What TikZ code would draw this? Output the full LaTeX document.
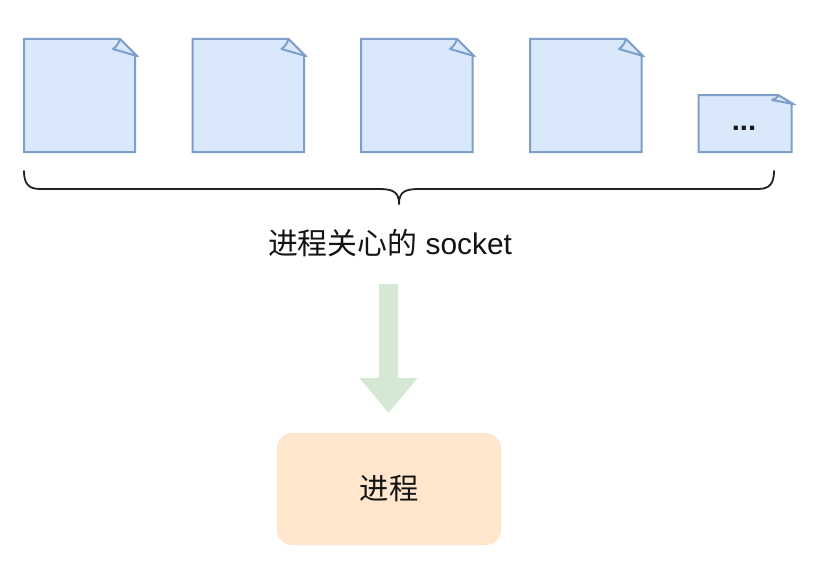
\documentclass[tikz,border=0pt]{standalone}
\usepackage{fontspec}
\setmainfont{Liberation Sans}
\newfontfamily\cjk{Noto Sans CJK SC}
\usetikzlibrary{arrows.meta,calc}
\definecolor{docfill}{HTML}{DAE8FC}
\definecolor{docline}{HTML}{7F9FCB}
\definecolor{arrowfill}{HTML}{D5E8D4}
\definecolor{procfill}{HTML}{FFE6CC}
\definecolor{bracecol}{HTML}{222222}
\tikzset{
  px/.style={x=0.75pt,y=-0.75pt},
  docnode/.style={inner sep=0pt,outer sep=0pt,font=\fontsize{22}{26}\bfseries\selectfont,text=black!90},
  docoutline/.style={draw=docline,fill=docfill,line width=1.5pt,line join=miter,miter limit=4},
  docfold/.style={draw=docline,fill=docfill,line width=1.5pt,line join=round},
  bracestyle/.style={draw=bracecol,line width=1.35pt,line cap=round},
  bigarrow/.style={draw=arrowfill,line width=14.25pt,-{Triangle[length=26.25pt,width=42pt,fill=arrowfill]}},
  labeltext/.style={inner sep=0pt,font=\fontsize{22.4}{26}\selectfont,text=black!92},
  procbox/.style={fill=procfill,draw=none,rounded corners=11.5pt,minimum width=168pt,minimum height=84pt,inner sep=0pt,font=\fontsize{22}{26}\selectfont,text=black!92},
}
% #1 name, #2 left, #3 top, #4 right, #5 bottom, #6 corner x, #7 tip x, #8 tip y, #9 inner-point offset pair
\newcommand{\docshape}[9]{%
  \draw[docoutline] (#2,#3) -- (#6,#3) -- (#7,#8) -- (#4,#8) -- (#4,#5) -- (#2,#5) -- cycle;
  \draw[docfold] (#6,#3) .. controls ($(#6,#3)+(-1,4)$) and ($(#6,#3)+#9+(3,-2)$) .. ($(#6,#3)+#9$) -- (#7,#8) -- cycle;
  \coordinate (#1-nw) at (#2,#3);
  \coordinate (#1-se) at (#4,#5);
}
\begin{document}
\begin{tikzpicture}[px]
\useasboundingbox (0,0) rectangle (823,567);
\fill[white] (0,0) rectangle (823,567);
\docshape{d1}{24}{39}{135}{152}{120}{137}{56}{(-7,10)}
\docshape{d2}{192.5}{39}{304}{152}{288.5}{305.5}{56}{(-7,10)}
\docshape{d3}{361}{39}{472.5}{152}{457}{474}{56}{(-7,10)}
\docshape{d4}{530}{39}{641.5}{152}{626}{643}{56}{(-7,10)}
\docshape{d5}{698.5}{95}{791.5}{152}{778}{793}{104}{(-6,5)}
\node[docnode] (dots) at (744,128) {...};
\draw[bracestyle] (24,171) .. controls (24,183) and (28,189) .. (40,189) -- (378,189) .. controls (392,189) and (399,191) .. (399,204);
\draw[bracestyle] (399,204) .. controls (399,191) and (406,189) .. (420,189) -- (758,189) .. controls (770,189) and (774,183) .. (774,171);
\node[labeltext,anchor=base] (label) at (390,254) {{\cjk 进程关心的} socket};
\node[procbox] (proc) at (389,489) {\cjk 进程};
\coordinate (arrowstart) at (388.5,284);
\coordinate (arrowend) at (388.5,413);
\draw[bigarrow] (arrowstart) -- (arrowend);
\end{tikzpicture}
\end{document}
